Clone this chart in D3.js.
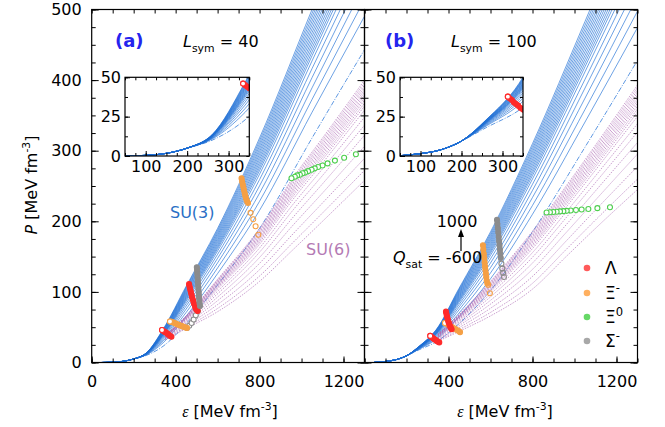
<!doctype html>
<html>
<head>
<meta charset="utf-8">
<title>EoS SU(3) / SU(6)</title>
<script src="https://cdn.jsdelivr.net/npm/d3@7"></script>
<style>
  body{margin:0;background:#fff}
  text{font-family:"DejaVu Sans",sans-serif;fill:#000}
</style>
</head>
<body>
<svg id="chart" width="665" height="427"></svg>
<script>
// ---- data ----
// energy density grids (MeV fm^-3)
var epsBlue   = [260, 340, 450, 600, 800, 1050, 1300];
var epsPurple = [350, 450, 600, 800, 960, 1100, 1300];
// common low density part
var lowA = [[45,0],[100,0.4],[150,1.7],[200,5]];
var lowB = [[45,0.1],[100,1.5],[150,4],[200,9.5]];

// SU(3) curves, L_sym = 40 (steep -> soft)
var blueA = [
 [13.5,47.0,108.0,190.0,318.0,500.0,680.0],
 [13.4,46.3,106.4,187.6,314.2,494.5,672.9],
 [13.3,45.6,104.8,185.2,310.3,489.1,665.8],
 [13.2,44.8,103.2,182.8,306.5,483.6,658.7],
 [13.1,44.1,101.6,180.4,302.6,478.2,651.6],
 [13.0,43.4,100.1,178.0,298.8,472.7,644.5],
 [12.9,42.7,98.5,175.6,295.0,467.2,637.3],
 [12.8,42.0,96.9,173.2,291.1,461.8,630.2],
 [12.7,41.2,95.3,170.8,287.3,456.3,623.1],
 [12.6,40.5,93.7,168.4,283.4,450.9,616.0],
 [12.5,39.8,92.1,166.0,279.6,445.4,608.9],
 [12.3,39.1,90.5,163.6,275.8,439.9,601.8],
 [12.2,38.4,88.9,161.2,271.9,434.5,594.7],
 [12.1,37.4,86.8,158.0,266.8,427.2,585.2],
 [11.9,36.0,83.6,153.2,259.1,416.3,571.0],
 [11.6,34.3,79.9,147.6,250.2,403.5,554.4],
 [11.4,32.4,75.7,141.2,239.9,389.0,535.4],
 [11.1,30.2,70.9,134.0,228.4,372.6,514.1],
 [10.7,27.8,65.6,126.0,215.6,354.4,490.4]
];
var blueDashA = [10,23,55,110,190,318,443];

// SU(6) curves, L_sym = 40
var purpleA = [
 [38.0,66.0,118.0,190.0,262.0,318.0,400.0],
 [37.9,65.6,116.9,188.1,259.5,315.1,396.5],
 [37.7,65.1,115.7,186.3,256.9,312.1,392.9],
 [37.6,64.7,114.6,184.4,254.4,309.2,389.4],
 [37.4,64.2,113.4,182.5,251.8,306.2,385.8],
 [37.3,63.8,112.3,180.6,249.3,303.3,382.3],
 [37.1,63.3,111.1,178.8,246.7,300.3,378.7],
 [37.0,62.9,110.0,176.9,244.2,297.4,375.2],
 [36.8,62.4,108.8,175.0,241.6,294.4,371.6],
 [36.6,61.9,107.4,172.8,238.5,290.9,367.3],
 [36.4,61.3,106.0,170.5,235.5,287.3,363.1],
 [36.2,60.6,104.2,167.5,231.4,282.6,357.4],
 [35.8,59.3,101.0,162.3,224.3,274.3,347.5],
 [35.3,57.9,97.3,156.3,216.1,264.9,336.1],
 [34.7,56.1,92.7,148.8,205.9,253.1,321.9],
 [34.0,54.1,87.6,140.5,194.7,240.1,306.3],
 [33.3,52.0,82.1,131.5,182.4,226.0,289.2],
 [32.6,49.8,76.6,122.5,170.2,211.8,272.2],
 [32.0,48.0,72.0,115.0,160.0,200.0,258.0]
];

// SU(3) curves, L_sym = 100
var blueB = [
 [23.0,46.0,105.0,185.0,310.0,483.0,660.0],
 [22.9,45.5,103.5,182.5,306.3,477.7,653.0],
 [22.7,45.0,102.0,180.0,302.5,472.3,646.1],
 [22.6,44.5,100.5,177.5,298.8,467.0,639.1],
 [22.4,44.0,99.0,175.0,295.0,461.6,632.2],
 [22.3,43.5,97.5,172.6,291.3,456.3,625.2],
 [22.1,42.9,96.0,170.1,287.5,451.0,618.2],
 [22.0,42.4,94.5,167.6,283.8,445.6,611.3],
 [21.8,41.9,93.0,165.1,280.0,440.3,604.3],
 [21.7,41.4,91.5,162.6,276.3,434.9,597.4],
 [21.5,40.9,90.0,160.1,272.5,429.6,590.4],
 [21.4,40.4,88.5,157.6,268.8,424.3,583.4],
 [21.2,39.9,87.0,155.1,265.0,418.9,576.5],
 [21.0,39.2,85.0,151.8,260.0,411.8,567.2],
 [20.7,38.2,82.0,146.8,252.5,401.1,553.3],
 [20.4,37.0,78.5,141.0,243.8,388.7,537.0],
 [20.0,35.6,74.5,134.4,233.8,374.4,518.5],
 [19.5,34.1,70.0,126.9,222.5,358.4,497.6],
 [19.0,32.4,65.0,118.6,210.0,340.6,474.4]
];
var blueDashB = [18,29,55,102,185,305,428];

// SU(6) curves, L_sym = 100
var purpleB = [
 [40.0,68.0,115.0,186.0,250.0,308.0,393.0],
 [39.8,67.4,113.8,184.0,247.5,305.1,389.3],
 [39.5,66.8,112.6,181.9,245.0,302.1,385.6],
 [39.3,66.2,111.3,179.9,242.5,299.2,381.9],
 [39.0,65.6,110.1,177.8,240.0,296.2,378.2],
 [38.8,65.0,108.9,175.8,237.5,293.3,374.5],
 [38.5,64.4,107.7,173.7,235.0,290.3,370.8],
 [38.3,63.8,106.4,171.7,232.5,287.4,367.1],
 [38.0,63.2,105.2,169.6,230.0,284.4,363.4],
 [37.7,62.5,103.7,167.1,227.0,280.9,359.0],
 [37.4,61.8,102.3,164.7,224.0,277.3,354.5],
 [37.0,60.8,100.3,161.4,220.0,272.6,348.6],
 [36.3,59.1,96.9,155.7,213.0,264.3,338.2],
 [35.5,57.2,93.0,149.1,205.0,254.9,326.4],
 [34.5,54.8,88.1,140.9,195.0,243.1,311.6],
 [33.4,52.2,82.7,131.9,184.0,230.1,295.3],
 [32.2,49.3,76.8,122.0,172.0,216.0,277.6],
 [31.0,46.4,70.9,112.2,160.0,201.8,259.8],
 [30.0,44.0,66.0,104.0,150.0,190.0,245.0]
];

// hyperon onset points [eps, P]
var lamA1 = [[335,46],[340,45],[345,44],[350,43],[356,42],[362,40.5],[368,39],[374,37.5],[380,36.5]];
var lamA2 = [[464,111],[466,108],[468,105],[471,102],[473,99],[476,96],[478,93],[481,90],[484,87],[487,84],[490,82],[493,79],[496,77],[499,75],[502,74],[505,73]];
var xmA1  = [[373,58],[380,57.5],[387,57],[394,56],[401,55],[408,54],[415,53.5],[422,52.5],[430,51.5],[438,50.5],[446,49.5],[454,49]];
var xmA2  = [[714,261],[717,256],[720,252],[723,248],[726,244],[729,240],[732,236],[735,233],[738,230],[741,228],[745,226]];
var xmA3  = [[757,212],[770,203],[781,193],[794,181]];
var sgA1  = [[501,135],[502,131],[503,127],[504,123],[505,119],[506,115],[507,111],[508,107],[509,103],[510,99],[511,95],[512,91],[513,87],[514,84],[516,80]];
var sgA2  = [[506,73],[496,67],[486,61],[476,56],[465,52],[454,49]];
var x0A   = [[952,261],[968,263],[979,265],[992,266],[1005,268],[1017,269],[1031,271],[1048,273],[1063,275],[1079,277],[1100,279],[1124,282],[1159,286],[1203,290],[1259,295]];

var lamB1 = [[313,37.7],[318,36.5],[323,35.5],[328,34],[333,33],[338,32],[344,30.5],[350,29.5],[356,28.5]];
var lamB2 = [[388,72],[390,69],[392,66],[394,64],[397,61],[399,58],[402,56],[405,53],[408,51],[411,49],[415,47]];
var xmB1  = [[383,56],[390,55],[397,54],[404,52.5],[411,51],[418,50],[425,48.5],[432,47.5],[440,46],[448,44.5],[455,43]];
var xmB2  = [[564,166],[566,160],[568,154],[570,148],[572,142],[574,136],[576,131],[578,126],[580,121],[582,116],[585,112]];
var xmB3  = [[589,110],[597,98]];
var sgB1  = [[631,202],[633,196],[635,190],[637,184],[639,178],[641,172],[643,166],[645,160],[647,154],[649,148]];
var sgB2  = [[652,140],[656,133],[660,127],[664,121]];
var x0B   = [[867,212.4],[883,212.8],[899,213.2],[915,213.6],[931,214],[947,214.4],[963,214.8],[982,215.3],[1007,216],[1034,216.7],[1066,217.5],[1109,218.6],[1169,220]];

var xTicksMain = [0, 400, 800, 1200];
var yTicksMain = [0, 100, 200, 300, 400, 500];
var xTicksInset = [100, 200, 300];
var yTicksInset = [0, 25, 50];

// ---- colours ----
var cRed = "#ff2a2a", cOrange = "#f5a045", cGray = "#8c8c8c", cGreen = "#4fcf4f";

var svg = d3.select("#chart");
var yTop = 9.5, yBot = 362.5;
var y = d3.scaleLinear().domain([0, 500]).range([yBot, yTop]);

// run styles: "band" = dense onset points (thick, open end), "solid" = dense, "open" = spaced circles
var panels = [
  {id: "a", x: d3.scaleLinear().domain([0, 1300]).range([91.7, 364.5]),
   low: lowA, blue: blueA, dash: blueDashA, purple: purpleA,
   runs: [[sgA2, cGray, "open"], [xmA1, cOrange, "band"], [lamA1, cRed, "band"], [lamA2, cRed, "solid"],
          [sgA1, cGray, "solid"], [xmA2, cOrange, "solid"], [xmA3, cOrange, "dots"], [x0A, cGreen, "open"]],
   insetRun: lamA1, inset: [125, 249.3], xlabels: xTicksMain, ylabels: true},
  {id: "b", x: d3.scaleLinear().domain([0, 1300]).range([364.5, 637.5]),
   low: lowB, blue: blueB, dash: blueDashB, purple: purpleB,
   runs: [[xmB1, cOrange, "band"], [lamB1, cRed, "band"], [lamB2, cRed, "solid"], [xmB2, cOrange, "solid"],
          [xmB3, cOrange, "dots"], [sgB1, cGray, "solid"], [sgB2, cGray, "dots"], [x0B, cGreen, "open"]],
   insetRun: lamB1, inset: [400, 523], xlabels: xTicksMain.slice(1), ylabels: false}
];

function pts(prefix, grid, row) {
  return prefix.concat(grid.map(function(e, i) { return [e, row[i]]; }));
}

function styleAxis(g, size) {
  g.select(".domain").remove();
  g.attr("font-family", null).attr("font-size", null);
  g.selectAll("line").attr("stroke", "#000").attr("stroke-width", 1);
  g.selectAll("text").attr("font-size", size).attr("fill", "#000");
}

function drawMarkers(g, runs, x, yy) {
  runs.forEach(function(r) {
    var data = r[0], col = r[1], kind = r[2];
    if (kind === "band" || kind === "solid") {
      g.append("path").attr("d", d3.line().x(function(d) { return x(d[0]); })
          .y(function(d) { return yy(d[1]); })(data))
        .attr("fill", "none").attr("stroke", col).attr("stroke-width", 5)
        .attr("stroke-linecap", "round").attr("stroke-linejoin", "round");
    }
    g.selectAll(null).data(data.slice().reverse()).enter().append("circle")
      .attr("cx", function(d) { return x(d[0]); })
      .attr("cy", function(d) { return yy(d[1]); })
      .attr("r", 2.5)
      .attr("fill", kind === "open" ? "#fff" : "none")
      .attr("stroke", col)
      .attr("stroke-width", 1.1);
    if (kind === "band") {
      g.append("circle").attr("cx", x(data[0][0])).attr("cy", yy(data[0][1]))
        .attr("r", 2.5).attr("fill", "#fff").attr("stroke", col).attr("stroke-width", 1.1);
    }
  });
}

function drawBlue(g, p, line) {
  g.selectAll(null).data(p.blue).enter().append("path")
    .attr("d", function(r) { return line(pts(p.low, epsBlue, r)); })
    .attr("fill", "none").attr("stroke", "#1f6fd6")
    .attr("stroke-opacity", 0.72).attr("stroke-width", 0.9);
  g.append("path").attr("d", line(pts(p.low, epsBlue, p.dash)))
    .attr("fill", "none").attr("stroke", "#1f6fd6").attr("stroke-opacity", 0.8)
    .attr("stroke-width", 0.9).attr("stroke-dasharray", "5,1.5,1,1.5");
}

panels.forEach(function(p) {
  var x = p.x, x0 = x.range()[0], x1 = x.range()[1];
  var cid = "clip" + p.id;
  svg.append("clipPath").attr("id", cid).append("rect")
    .attr("x", x0).attr("y", yTop).attr("width", x1 - x0).attr("height", yBot - yTop);

  var line = d3.line().x(function(d) { return x(d[0]); })
    .y(function(d) { return y(d[1]); }).curve(d3.curveMonotoneX);

  var cg = svg.append("g").attr("clip-path", "url(#" + cid + ")");
  drawBlue(cg, p, line);
  cg.selectAll(null).data(p.purple).enter().append("path")
    .attr("d", function(r) { return line(epsPurple.map(function(e, i) { return [e, r[i]]; })); })
    .attr("fill", "none").attr("stroke", "#b070b8").attr("stroke-opacity", 0.8)
    .attr("stroke-width", 0.85).attr("stroke-dasharray", "1.5,1.2");
  drawMarkers(cg, p.runs, x, y);

  // axes: ticks inward on all four sides
  var allX = d3.range(0, 1301, 100), allY = d3.range(0, 501, 25);
  var b1 = svg.append("g").attr("transform", "translate(0," + yBot + ")")
    .call(d3.axisBottom(x).tickValues(allX).tickSize(-4).tickFormat(""));
  styleAxis(b1, 16);
  var b2 = svg.append("g").attr("transform", "translate(0," + yBot + ")")
    .call(d3.axisBottom(x).tickValues(p.xlabels).tickSize(-6).tickPadding(13).tickFormat(d3.format("d")));
  styleAxis(b2, 16);
  var t1 = svg.append("g").attr("transform", "translate(0," + yTop + ")")
    .call(d3.axisTop(x).tickValues(allX).tickSize(-4).tickFormat(""));
  styleAxis(t1, 16);
  var l1 = svg.append("g").attr("transform", "translate(" + x0 + ",0)")
    .call(d3.axisLeft(y).tickValues(allY).tickSize(-4).tickFormat(""));
  styleAxis(l1, 16);
  var l2 = svg.append("g").attr("transform", "translate(" + x0 + ",0)")
    .call(d3.axisLeft(y).tickValues(yTicksMain).tickSize(-7).tickPadding(10)
      .tickFormat(p.ylabels ? d3.format("d") : ""));
  styleAxis(l2, 16);
  var r1 = svg.append("g").attr("transform", "translate(" + x1 + ",0)")
    .call(d3.axisRight(y).tickValues(allY).tickSize(-4).tickFormat(""));
  styleAxis(r1, 16);
  var r2 = svg.append("g").attr("transform", "translate(" + x1 + ",0)")
    .call(d3.axisRight(y).tickValues(yTicksMain).tickSize(-7).tickFormat(""));
  styleAxis(r2, 16);
  svg.append("rect").attr("x", x0).attr("y", yTop).attr("width", x1 - x0).attr("height", yBot - yTop)
    .attr("fill", "none").attr("stroke", "#000").attr("stroke-width", 1.2);

  // inset
  var xi = d3.scaleLinear().domain([50, 350]).range(p.inset);
  var yi = d3.scaleLinear().domain([0, 50]).range([156, 77.3]);
  var iid = "iclip" + p.id;
  svg.append("clipPath").attr("id", iid).append("rect")
    .attr("x", p.inset[0]).attr("y", 77.3).attr("width", p.inset[1] - p.inset[0]).attr("height", 156 - 77.3);
  svg.append("rect").attr("x", p.inset[0]).attr("y", 77.3)
    .attr("width", p.inset[1] - p.inset[0]).attr("height", 156 - 77.3).attr("fill", "#fff");
  var iline = d3.line().x(function(d) { return xi(d[0]); })
    .y(function(d) { return yi(d[1]); }).curve(d3.curveMonotoneX);
  var ig = svg.append("g").attr("clip-path", "url(#" + iid + ")");
  drawBlue(ig, p, iline);
  drawMarkers(ig, [[p.insetRun, cRed, "band"]], xi, yi);

  var ix1 = svg.append("g").attr("transform", "translate(0,156)")
    .call(d3.axisBottom(xi).tickValues(d3.range(50, 351, 25)).tickSize(-3).tickFormat(""));
  styleAxis(ix1, 16);
  var ix2 = svg.append("g").attr("transform", "translate(0,156)")
    .call(d3.axisBottom(xi).tickValues(xTicksInset).tickSize(-5).tickPadding(5).tickFormat(d3.format("d")));
  styleAxis(ix2, 16);
  var ix3 = svg.append("g").attr("transform", "translate(0,77.3)")
    .call(d3.axisTop(xi).tickValues(d3.range(50, 351, 25)).tickSize(-3).tickFormat(""));
  styleAxis(ix3, 16);
  var iy1 = svg.append("g").attr("transform", "translate(" + p.inset[0] + ",0)")
    .call(d3.axisLeft(yi).tickValues(d3.range(0, 51, 12.5)).tickSize(-3).tickFormat(""));
  styleAxis(iy1, 16);
  var iy2 = svg.append("g").attr("transform", "translate(" + p.inset[0] + ",0)")
    .call(d3.axisLeft(yi).tickValues(yTicksInset).tickSize(-5).tickPadding(4).tickFormat(d3.format("d")));
  styleAxis(iy2, 16);
  var iy3 = svg.append("g").attr("transform", "translate(" + p.inset[1] + ",0)")
    .call(d3.axisRight(yi).tickValues(d3.range(0, 51, 12.5)).tickSize(-3).tickFormat(""));
  styleAxis(iy3, 16);
  svg.append("rect").attr("x", p.inset[0]).attr("y", 77.3)
    .attr("width", p.inset[1] - p.inset[0]).attr("height", 156 - 77.3)
    .attr("fill", "none").attr("stroke", "#000").attr("stroke-width", 1.2);
});

// ---- text ----
function rich(x, y0, size, parts, anchor, extra) {
  var t = svg.append("text").attr("x", x).attr("y", y0).attr("font-size", size)
    .attr("text-anchor", anchor || "start");
  if (extra) extra(t);
  var shift = 0;
  parts.forEach(function(p) {
    var s = t.append("tspan").text(p.t);
    var target = p.sub ? size * 0.3 : p.sup ? -size * 0.42 : 0;
    if (target !== shift) { s.attr("dy", target - shift); shift = target; }
    if (p.sub || p.sup) s.attr("font-size", size * 0.68);
    if (p.it) s.attr("font-style", "italic");
    if (p.fam) s.attr("font-family", p.fam);
  });
  return t;
}

svg.append("text").attr("x", 115).attr("y", 47).attr("font-size", 18)
  .attr("font-weight", "bold").style("fill", "#2424ee").text("(a)");
svg.append("text").attr("x", 385).attr("y", 47).attr("font-size", 18)
  .attr("font-weight", "bold").style("fill", "#2424ee").text("(b)");
rich(183, 47, 16, [{t: "L", it: true}, {t: "sym", sub: true}, {t: " = 40"}]);
rich(451, 47, 16, [{t: "L", it: true}, {t: "sym", sub: true}, {t: " = 100"}]);

svg.append("text").attr("x", 170).attr("y", 218).attr("font-size", 16)
  .style("fill", "#2a6fc5").text("SU(3)");
svg.append("text").attr("x", 306).attr("y", 255).attr("font-size", 16)
  .style("fill", "#b47ab4").text("SU(6)");

svg.append("text").attr("x", 457).attr("y", 227).attr("font-size", 16)
  .attr("text-anchor", "middle").text("1000");
svg.append("line").attr("x1", 461).attr("x2", 461).attr("y1", 251).attr("y2", 234)
  .attr("stroke", "#000").attr("stroke-width", 1.2);
svg.append("path").attr("d", "M461,229L458,237L464,237Z").attr("fill", "#000");
rich(393, 263, 16, [{t: "Q", it: true}, {t: "sat", sub: true}, {t: " = -600"}]);

// axis titles
rich(0, 0, 16, [{t: "P", it: true}, {t: " [MeV fm"}, {t: "-3", sup: true}, {t: "]"}], "middle",
  function(t) { t.attr("transform", "translate(37,185) rotate(-90)"); });
[230, 505].forEach(function(cx) {
  rich(cx, 417, 16, [{t: "\u03B5", it: true, fam: "Liberation Serif"}, {t: " [MeV fm"}, {t: "-3", sup: true}, {t: "]"}], "middle");
});

// legend
var legItems = [
  {c: "#ff5a5a", parts: [{t: "\u039B"}]},
  {c: "#ffb060", parts: [{t: "\u039E"}, {t: "-", sup: true}]},
  {c: "#66d866", parts: [{t: "\u039E"}, {t: "0", sup: true}]},
  {c: "#a8a8a8", parts: [{t: "\u03A3"}, {t: "-", sup: true}]}
];
var legY = [268, 293, 317, 341];
legItems.forEach(function(d, i) {
  svg.append("circle").attr("cx", 587).attr("cy", legY[i]).attr("r", 3.3).attr("fill", d.c);
  rich(605, legY[i] + 6, 17, d.parts, "start",
    function(t) { t.attr("font-family", "Liberation Serif, serif"); });
});
</script>
</body>
</html>
